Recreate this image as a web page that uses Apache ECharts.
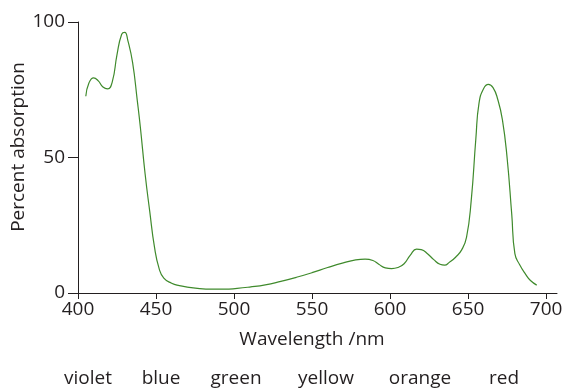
<!DOCTYPE html>
<html>
<head>
<meta charset="utf-8">
<script src="https://cdn.jsdelivr.net/npm/echarts@6/dist/echarts.min.js"></script>
<style>
  html, body { margin: 0; padding: 0; background: #fff; }
  #main { width: 566px; height: 390px; }
</style>
</head>
<body>
<div id="main"></div>
<script>
// absorption spectrum
var wavelength = [405, 407, 410, 413, 416, 419, 422, 425, 428, 430, 432, 435, 438, 440, 443, 446, 449, 452, 455,
  460, 465, 470, 478, 486, 494, 502, 510, 520, 530, 540, 550, 560, 570, 578, 584, 589, 593, 597, 601, 605, 609,
  613, 617, 620, 624, 628, 632, 635, 638, 642, 646, 649, 652, 655, 657, 660, 663, 666, 669, 672, 675, 678, 680,
  683, 687, 690, 694];
var absorption = [72.6, 77.5, 79.4, 78.3, 76, 75.3, 78, 88, 95.5, 96.2, 93, 85, 71, 61, 44, 30, 17, 9, 5.5,
  3.6, 2.7, 2.2, 1.6, 1.4, 1.4, 1.7, 2.2, 3.0, 4.3, 5.8, 7.5, 9.4, 11.1, 12.2, 12.5, 12.0, 10.5, 9.3, 9.0, 9.4, 10.8,
  14, 16.2, 16.0, 14.5, 12.3, 10.6, 10.3, 11.3, 13.2, 16, 20.5, 34, 57, 70, 75.5, 77, 75.8, 71.5, 64, 50, 29, 14.5,
  10.5, 6.8, 4.6, 2.9];

var xTicks = [400, 450, 500, 550, 600, 650, 700];
var yTicks = [0, 50, 100];
var colourNames = ['violet', 'blue', 'green', 'yellow', 'orange', 'red'];

// layout only
var colourNameX = [88, 161, 236, 326, 420, 504];
var ink = '#231f20';
var font = 'Open Sans';

var points = wavelength.map(function (w, i) { return [w, absorption[i]]; });

function label(text, x, y, rot) {
  return {
    type: 'text', x: x, y: y, rotation: rot || 0,
    style: { text: text, fill: ink, font: '19px "' + font + '"', textAlign: 'center', textVerticalAlign: 'middle' }
  };
}

var graphics = [
  label('Percent absorption', 19, 147, Math.PI / 2),
  label('Wavelength /nm', 312, 340)
];
colourNames.forEach(function (name, i) {
  graphics.push(label(name, colourNameX[i], 379));
});

var chart = echarts.init(document.getElementById('main'));
chart.setOption({
  animation: false,
  grid: { left: 78, right: 9, top: 22, bottom: 97, containLabel: false },
  xAxis: {
    type: 'value', min: 400, max: 707, interval: 50,
    axisLine: { show: true, onZero: false, lineStyle: { color: ink, width: 1 } },
    axisTick: { show: true, length: 6, customValues: xTicks, lineStyle: { color: ink } },
    axisLabel: { customValues: xTicks, color: ink, fontFamily: font, fontSize: 19, margin: 7 },
    splitLine: { show: false }
  },
  yAxis: {
    type: 'value', min: 0, max: 100, interval: 50,
    axisLine: { show: true, lineStyle: { color: ink, width: 1 } },
    axisTick: { show: true, length: 10, customValues: yTicks, lineStyle: { color: ink } },
    axisLabel: { customValues: yTicks, color: ink, fontFamily: font, fontSize: 19, margin: 13 },
    splitLine: { show: false }
  },
  graphic: graphics,
  series: [{
    type: 'line',
    data: points,
    smooth: 0.5,
    showSymbol: false,
    lineStyle: { color: '#3f8a2c', width: 1.2 }
  }]
});
</script>
</body>
</html>
